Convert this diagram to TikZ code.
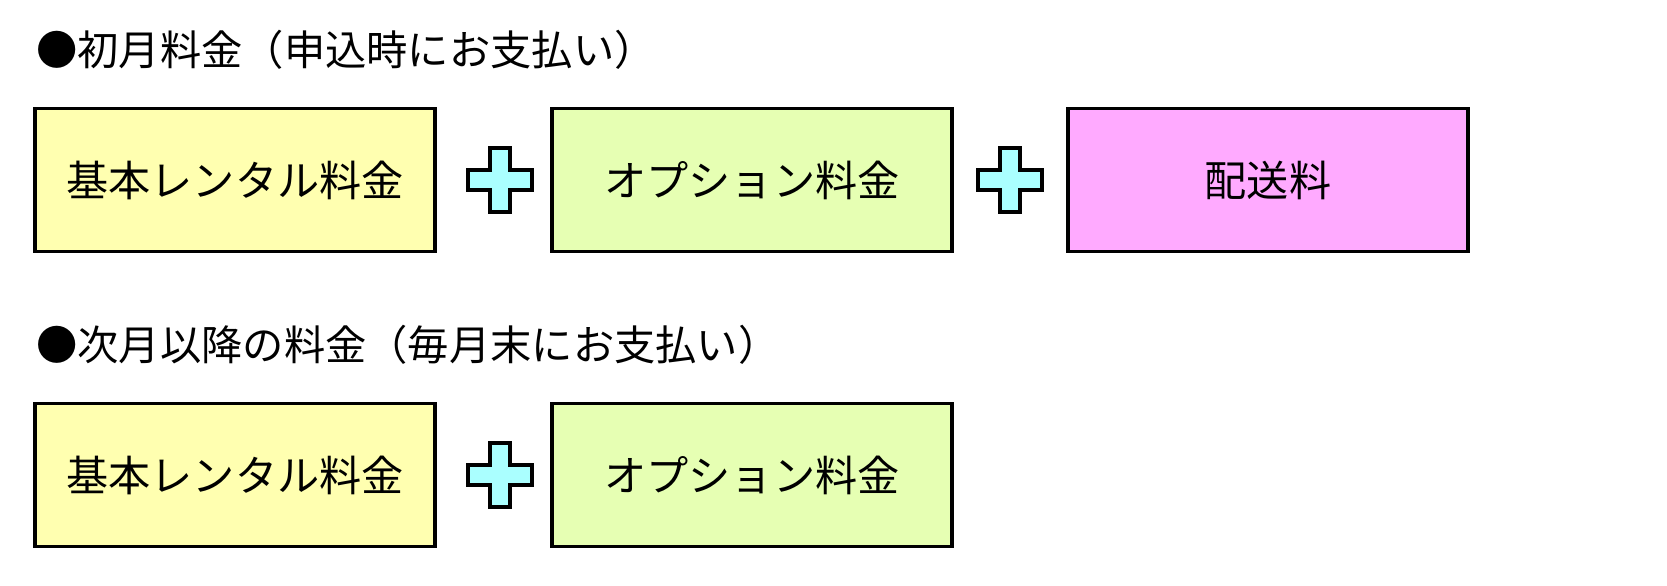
\documentclass[tikz,border=0pt]{standalone}
\usepackage{fontspec}
\newfontfamily\cjk{Noto Sans CJK JP}
\definecolor{cyel}{HTML}{FFFFB0}
\definecolor{cgrn}{HTML}{E6FFB3}
\definecolor{cpnk}{HTML}{FFAAFF}
\definecolor{ccyan}{HTML}{AAFFFF}
\begin{document}
\begin{tikzpicture}[x=0.02cm,y=-0.02cm,
  box/.style={draw,line width=1.8pt,minimum width=8cm,minimum height=2.86cm,font=\cjk\fontsize{24}{27}\selectfont,inner sep=0pt},
  head/.style={anchor=west,font=\cjk\fontsize{23.5}{27}\selectfont,inner sep=0pt},
  pl/.style={draw,line width=1.8pt,fill=ccyan}]
\useasboundingbox (0,0) rectangle (1667,585);
\node[head] (h1) at (36,50) {●初月料金（申込時にお支払い）};
\node[head] (h2) at (36,345) {●次月以降の料金（毎月末にお支払い）};
\node[box,fill=cyel] (a1) at (235,180) {基本レンタル料金};
\node[box,fill=cgrn] (b1) at (752,180) {オプション料金};
\node[box,fill=cpnk] (c1) at (1268,180) {配送料};
\node[box,fill=cyel] (a2) at (235,475) {基本レンタル料金};
\node[box,fill=cgrn] (b2) at (752,475) {オプション料金};
\foreach \cx/\cy in {500/180,1010/180,500/475}{
  \draw[pl] (\cx-10,\cy-32) -- (\cx+10,\cy-32) -- (\cx+10,\cy-10) -- (\cx+32,\cy-10) -- (\cx+32,\cy+10) -- (\cx+10,\cy+10) -- (\cx+10,\cy+32) -- (\cx-10,\cy+32) -- (\cx-10,\cy+10) -- (\cx-32,\cy+10) -- (\cx-32,\cy-10) -- (\cx-10,\cy-10) -- cycle;
}
\end{tikzpicture}
\end{document}
